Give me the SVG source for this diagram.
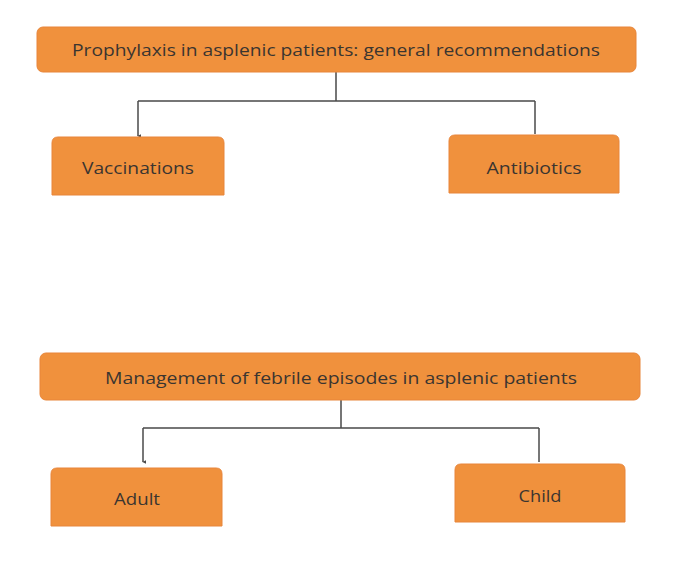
<svg xmlns="http://www.w3.org/2000/svg" width="673" height="575" viewBox="0 0 673 575">
<style>
.box{fill:#F0913D;stroke:#E8853A;stroke-width:1}
.t{font-family:"Open Sans","Liberation Sans",Arial,sans-serif;font-size:17px;fill:#3b3530;text-anchor:middle;dominant-baseline:central}
.c{fill:none;stroke:#4a4a4a;stroke-width:1.5}
</style>
<defs>
<marker id="ah" viewBox="0 0 6 6" refX="3" refY="5" markerWidth="4" markerHeight="4" orient="auto" markerUnits="userSpaceOnUse">
<path d="M0,0 L6,0 L3,6 Z" fill="#4a4a4a"/>
</marker>
</defs>
<rect width="673" height="575" fill="#ffffff"/>
<g id="connectors">
<path class="c" d="M336,72 V101 M138,101 H535"/>
<path class="c" d="M138,101 V136" marker-end="url(#ah)"/>
<path class="c" d="M535,101 V134"/>
<path class="c" d="M341,400 V428 M143,428 H539"/>
<path class="c" d="M143,428 V462" marker-end="url(#ah)"/>
<path class="c" d="M539,428 V462"/>
</g>
<g id="n-prophylaxis">
<rect class="box" x="37" y="27" width="599" height="45" rx="6"/>
<text class="t" x="336" y="49" textLength="528" lengthAdjust="spacingAndGlyphs">Prophylaxis in asplenic patients: general recommendations</text>
</g>
<g id="n-vaccinations">
<path class="box" d="M52,195 V143 Q52,137 58,137 H218 Q224,137 224,143 V195 Z"/>
<text class="t" x="138" y="167" textLength="112" lengthAdjust="spacingAndGlyphs">Vaccinations</text>
</g>
<g id="n-antibiotics">
<path class="box" d="M449,193 V141 Q449,135 455,135 H613 Q619,135 619,141 V193 Z"/>
<text class="t" x="534" y="167" textLength="95" lengthAdjust="spacingAndGlyphs">Antibiotics</text>
</g>
<g id="n-management">
<rect class="box" x="40" y="353" width="600" height="47" rx="6"/>
<text class="t" x="341" y="377" textLength="472" lengthAdjust="spacingAndGlyphs">Management of febrile episodes in asplenic patients</text>
</g>
<g id="n-adult">
<path class="box" d="M51,526 V474 Q51,468 57,468 H216 Q222,468 222,474 V526 Z"/>
<text class="t" x="137" y="498" textLength="46" lengthAdjust="spacingAndGlyphs">Adult</text>
</g>
<g id="n-child">
<path class="box" d="M455,522 V470 Q455,464 461,464 H619 Q625,464 625,470 V522 Z"/>
<text class="t" x="540" y="495" textLength="43" lengthAdjust="spacingAndGlyphs">Child</text>
</g>
</svg>
